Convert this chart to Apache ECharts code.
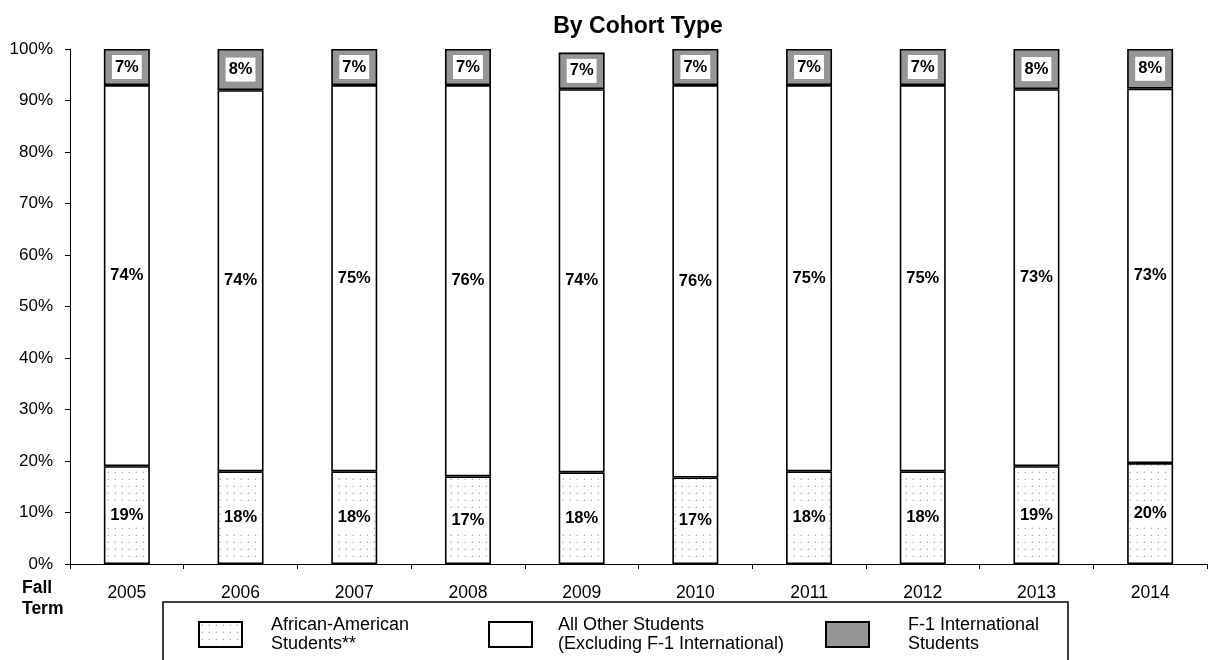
<!DOCTYPE html>
<html>
<head>
<meta charset="utf-8">
<script src="https://cdn.jsdelivr.net/npm/echarts@6/dist/echarts.min.js"></script>
<style>
  html, body { margin: 0; padding: 0; background: #fff; }
  #chart { width: 1216px; height: 660px; }
</style>
</head>
<body>
<div id="chart"></div>
<script>
// Fall term cohorts, share of each group (%)
const years = ['2005', '2006', '2007', '2008', '2009', '2010', '2011', '2012', '2013', '2014'];
const africanAmerican = [19, 18, 18, 17, 17.8, 16.8, 18, 18, 19, 19.6];
const allOther = [74, 74, 75, 76, 74.4, 76.2, 75, 75, 73.2, 72.7];
const international = [7, 8, 7, 7, 7.1, 7, 7, 7, 7.8, 7.7];
const yTicks = [0, 10, 20, 30, 40, 50, 60, 70, 80, 90, 100];

const seriesNames = [
  'African-American\nStudents**',
  'All Other Students\n(Excluding F-1 International)',
  'F-1 International\nStudents'
];

// light dotted fill for the African-American segment
function dotPattern() {
  const c = document.createElement('canvas');
  c.width = 7; c.height = 7;
  const g = c.getContext('2d');
  g.fillStyle = '#ffffff';
  g.fillRect(0, 0, 7, 7);
  g.fillStyle = '#b0b0b0';
  g.fillRect(3, 3, 1, 1);
  g.fillStyle = 'rgba(176,176,176,0.4)';
  g.fillRect(2, 3, 1, 1);
  g.fillRect(3, 2, 1, 1);
  return c;
}

const font = 'Arial, "Liberation Sans", sans-serif';

const labelCfg = {
  show: true,
  position: 'inside',
  formatter: p => Math.round(p.value) + '%',
  fontFamily: font,
  fontWeight: 'bold',
  fontSize: 16.5,
  color: '#000',
  backgroundColor: '#fff',
  padding: [4, 3, 3, 3]
};

function barSeries(name, data, color) {
  return {
    name: name,
    type: 'bar',
    stack: 'total',
    barWidth: 46,
    data: data,
    itemStyle: { color: color, borderColor: '#000', borderWidth: 1.6 },
    label: labelCfg,
    emphasis: { disabled: true }
  };
}

const chart = echarts.init(document.getElementById('chart'), null, { renderer: 'canvas' });

function legendAt(name, left, textPad) {
  return {
    data: [{ name: name, icon: 'rect' }],
    left: left,
    top: 613,
    orient: 'horizontal',
    padding: 0,
    itemWidth: 43,
    itemHeight: 25,
    selectedMode: false,
    textStyle: {
      fontFamily: font,
      fontSize: 18,
      color: '#000',
      lineHeight: 19,
      padding: [5, 0, 0, textPad]
    }
  };
}

chart.setOption({
  animation: false,
  title: {
    text: 'By Cohort Type',
    left: 633,
    textAlign: 'center',
    top: 10,
    textStyle: { fontFamily: font, fontWeight: 'bold', fontSize: 23, color: '#000' }
  },
  grid: { left: 70, right: 9, top: 49, bottom: 96 },
  legend: [
    legendAt(seriesNames[0], 198, 24),
    legendAt(seriesNames[1], 488, 21),
    legendAt(seriesNames[2], 825, 34)
  ],
  xAxis: {
    type: 'category',
    data: years,
    boundaryGap: true,
    axisLine: { lineStyle: { color: '#000', width: 1 } },
    axisTick: { show: true, length: 5, alignWithLabel: false, lineStyle: { color: '#000' } },
    axisLabel: { fontFamily: font, fontSize: 17.5, color: '#000', margin: 20 }
  },
  yAxis: {
    type: 'value',
    min: yTicks[0],
    max: yTicks[yTicks.length - 1],
    interval: yTicks[1] - yTicks[0],
    axisLine: { show: true, lineStyle: { color: '#000', width: 1 } },
    axisTick: { show: true, length: 5, lineStyle: { color: '#000' } },
    splitLine: { show: false },
    axisLabel: { fontFamily: font, fontSize: 17, color: '#000', margin: 17, formatter: '{value}%' }
  },
  graphic: [
    {
      type: 'text',
      left: 22,
      top: 578,
      style: {
        text: 'Fall\nTerm',
        font: 'bold 17.5px ' + font,
        fill: '#000',
        align: 'center',
        lineHeight: 21
      }
    },
    {
      type: 'rect',
      shape: { x: 163, y: 602, width: 905, height: 80 },
      style: { fill: 'none', stroke: '#000', lineWidth: 1.5 },
      z: -1
    }
  ],
  series: [
    barSeries(seriesNames[0], africanAmerican, { image: dotPattern(), repeat: 'repeat' }),
    barSeries(seriesNames[1], allOther, '#ffffff'),
    barSeries(seriesNames[2], international, '#969696')
  ]
});
</script>
</body>
</html>
